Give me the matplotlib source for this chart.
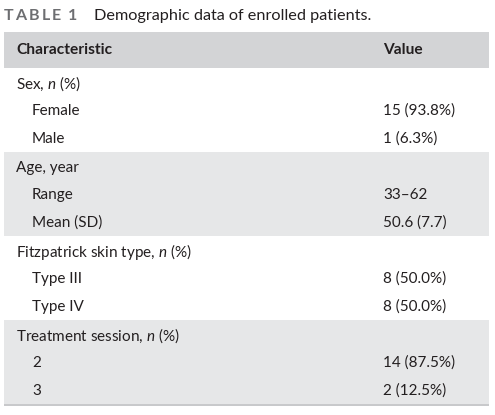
import matplotlib
matplotlib.use("Agg")
import matplotlib.pyplot as plt
from matplotlib.patches import Rectangle

plt.rcParams['font.family'] = ['Lato', 'DejaVu Sans']
plt.rcParams['mathtext.fontset'] = 'custom'
plt.rcParams['mathtext.rm'] = 'Lato'
plt.rcParams['mathtext.it'] = 'Lato:italic'

W, H = 495, 415
title_label = "TABLE 1"
title_text = "Demographic data of enrolled patients."
col_headers = ["Characteristic", "Value"]
groups = ["Sex, $n$ (%)", "Age, year", "Fitzpatrick skin type, $n$ (%)", "Treatment session, $n$ (%)"]
items = [["Female", "Male"], ["Range", "Mean (SD)"], ["Type III", "Type IV"], ["2", "3"]]
values = [["15 (93.8%)", "1 (6.3%)"], ["33\u201362", "50.6 (7.7)"], ["8 (50.0%)", "8 (50.0%)"], ["14 (87.5%)", "2 (12.5%)"]]
shaded = [False, True, False, True]

fig = plt.figure(figsize=(W / 100, H / 100), dpi=100)
ax = fig.add_axes([0, 0, 1, 1])
ax.set_xlim(0, W)
ax.set_ylim(H, 0)
ax.axis('off')
fig.canvas.draw()
r = fig.canvas.get_renderer()

def fit_size(s, target_w, base=10, **kw):
    t = ax.text(0, 0, s, fontsize=base, **kw)
    w = t.get_window_extent(renderer=r).width
    t.remove()
    return base * target_w / w

txtc = '#231f20'
fs = fit_size("15 (93.8%)", 72)
fs_b = fit_size("Characteristic", 96, fontweight='bold')
fs_t = fit_size(title_text, 279)

# title label with letter spacing
x = 3.5
for ch in title_label:
    if ch == ' ':
        x += 5
        continue
    t = ax.text(x, 16, ch, fontsize=11.5, fontweight='bold', color='#6d6e71', va='center', ha='left')
    bb = t.get_window_extent(renderer=r)
    x += bb.width + 2.2
ax.text(94, 16, title_text, fontsize=fs_t, color=txtc, va='center', ha='left')

left, right = 4, 489
ax.add_patch(Rectangle((left, 32), right - left, 36, color='#d3d4d6', lw=0))
ax.text(16, 50, col_headers[0], fontsize=fs_b, fontweight='bold', color=txtc, va='center')
ax.text(383, 50, col_headers[1], fontsize=fs_b, fontweight='bold', color=txtc, va='center')

rowh = 28
y0 = 68
for gi, g in enumerate(groups):
    top = y0 + gi * 3 * rowh
    if shaded[gi]:
        ax.add_patch(Rectangle((left, top), right - left, 3 * rowh, color='#e6e7e8', lw=0))
    ax.text(16, top + rowh / 2 + 2, g, fontsize=fs, color=txtc, va='center')
    for ii, (it, v) in enumerate(zip(items[gi], values[gi])):
        yc = top + (ii + 1.5) * rowh + 1
        ax.text(32, yc, it, fontsize=fs, color=txtc, va='center')
        ax.text(383, yc, v, fontsize=fs, color=txtc, va='center')

ax.add_patch(Rectangle((left, y0 + 12 * rowh), right - left, 2, color='#c8c9cb', lw=0))

fig.savefig('out.png', dpi=100)
